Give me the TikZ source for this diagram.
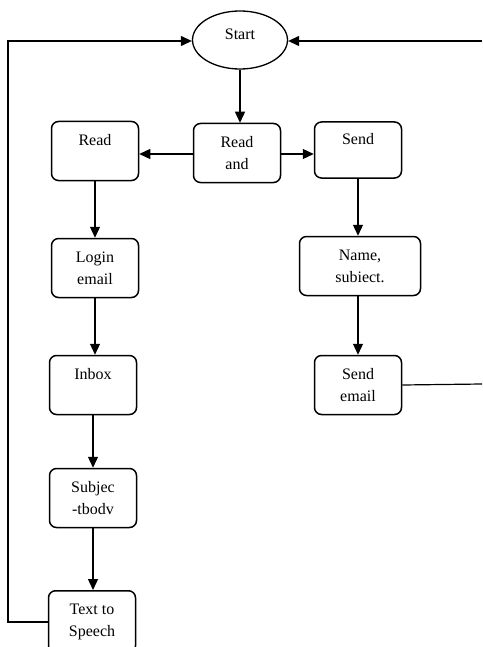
\documentclass[tikz,border=0pt]{standalone}
\usepackage{fontspec}
\setmainfont{Liberation Serif}
\usetikzlibrary{arrows.meta,shapes.geometric}
\begin{document}
\begin{tikzpicture}[x=1pt,y=-1pt,
  box/.style={draw,line width=1.5pt,rounded corners=7pt,minimum width=87pt,minimum height=59pt,inner sep=0pt,align=center,font=\fontsize{16}{22}\selectfont},
  arr/.style={line width=1.2pt,-{Triangle[length=11pt,width=10pt]}},
  ln/.style={line width=1.2pt}]
\useasboundingbox (0,0) rectangle (482,647);
\clip (0,0) rectangle (482,647);
\node[draw,line width=1.3pt,ellipse,minimum width=95pt,minimum height=58pt,inner sep=0pt,text depth=12pt,font=\fontsize{16}{22}\selectfont] (start) at (240,40) {Start};
\node[box] (readand) at (237,153) {Read\\and};
\node[box] (read) at (95,151) {Read\\~};
\node[box,minimum height=56pt] (send) at (358,150) {Send\\~};
\node[box] (login) at (95,268) {Login\\email};
\node[box] (inbox) at (93,385) {Inbox\\~};
\node[box,minimum width=121pt] (name) at (360,266) {Name,\\subiect.};
\node[box] (sendemail) at (358,385) {Send\\email};
\node[box] (subj) at (93,498) {Subjec\\-tbodv};
\node[box,minimum height=62pt,anchor=north] (tts) at (92,590) {Text to\\Speech};
\coordinate (rtop) at (482,41);
\coordinate (rmid) at (482,384);
\coordinate (lbot) at (8,622);
\coordinate (ltop) at (8,41);
\draw[arr] (start.south) -- (start.south |- readand.north);
\draw[arr] (readand.west |- 0,154) -- (read.east |- 0,154);
\draw[arr] (readand.east |- 0,154) -- (send.west |- 0,154);
\draw[arr] (read.south) -- (read.south |- login.north);
\draw[arr] (login.south) -- (login.south |- inbox.north);
\draw[arr] (inbox.south) -- (inbox.south |- subj.north);
\draw[arr] (subj.south) -- (subj.south |- tts.north);
\draw[arr] (send.south) -- (send.south |- name.north);
\draw[arr] (name.south -| sendemail.north) -- (sendemail.north);
\draw[ln] (sendemail.east) -- (rmid);
\draw[arr] (rtop) -- (start.east |- rtop);
\draw[arr] (tts.west |- lbot) -- (lbot) -- (ltop) -- (start.west |- ltop);
\end{tikzpicture}
\end{document}
